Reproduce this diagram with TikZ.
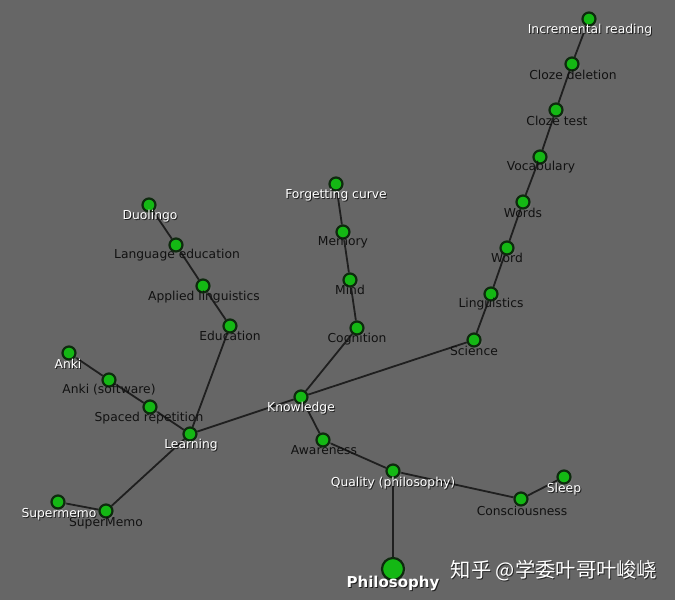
\documentclass[tikz,border=0pt]{standalone}
\usepackage{fontspec}
\setmainfont{DejaVu Sans}
\newfontfamily\cjk{Noto Sans CJK SC}
\usetikzlibrary{shadows}
\definecolor{bggray}{HTML}{666666}
\definecolor{nodegreen}{HTML}{14B814}
\definecolor{nodeedge}{HTML}{0E2A0E}
\definecolor{darktext}{HTML}{111111}
\pgfdeclarelayer{back}
\pgfdeclarelayer{edges}
\pgfsetlayers{back,edges,main}
\tikzset{
  x=1pt,y=1pt,
  vert/.style={circle,draw=nodeedge,line width=2.2pt,fill=nodegreen,inner sep=0pt,minimum size=13pt,
    drop shadow={shadow xshift=2pt,shadow yshift=-2pt,opacity=0.35}},
  bigvert/.style={vert,minimum size=22pt},
  lab/.style={font=\fontsize{12.3}{13}\selectfont,inner sep=0pt},
  wlab/.style={lab,text=white},
  dlab/.style={lab,text=darktext},
  link/.style={draw=black!88,line width=1.8pt},
}
\newcommand{\wlabel}[3]{%
  \node[lab,text=black,opacity=0.7] at ([xshift=1pt,yshift=-1pt]#1) {#3};
  \node[wlab] (#2) at (#1) {#3};}
\newcommand{\dlabel}[3]{\node[dlab] (#2) at (#1) {#3};}
\begin{document}
\begin{tikzpicture}
\begin{pgfonlayer}{back}
\fill[bggray] (0,0) rectangle (675,600);
\end{pgfonlayer}
\useasboundingbox (0,0) rectangle (675,600);
% vertices (y = 600 - pixel y)
\node[vert] (ir) at (589,581) {};
\node[vert] (cd) at (572,536) {};
\node[vert] (ct) at (556,490) {};
\node[vert] (voc) at (540,443) {};
\node[vert] (wds) at (523,398) {};
\node[vert] (wd) at (507,352) {};
\node[vert] (lin) at (491,306) {};
\node[vert] (sci) at (474,260) {};
\node[vert] (fc) at (336,416) {};
\node[vert] (mem) at (343,368) {};
\node[vert] (mind) at (350,320) {};
\node[vert] (cog) at (357,272) {};
\node[vert] (duo) at (149,395) {};
\node[vert] (led) at (176,355) {};
\node[vert] (al) at (203,314) {};
\node[vert] (edu) at (230,274) {};
\node[vert] (anki) at (69,247) {};
\node[vert] (ankis) at (109,220) {};
\node[vert] (sr) at (150,193) {};
\node[vert] (learn) at (190,166) {};
\node[vert] (know) at (301,203) {};
\node[vert] (aw) at (323,160) {};
\node[vert] (qual) at (393,129) {};
\node[vert] (cons) at (521,101) {};
\node[vert] (sleep) at (564,123) {};
\node[bigvert] (phil) at (393,31) {};
\node[vert] (smlow) at (58,98) {};
\node[vert] (smup) at (106,89) {};
% edges
\begin{pgfonlayer}{edges}
\draw[link] (ir) -- (cd) -- (ct) -- (voc) -- (wds) -- (wd) -- (lin) -- (sci) -- (know);
\draw[link] (fc) -- (mem) -- (mind) -- (cog) -- (know);
\draw[link] (duo) -- (led) -- (al) -- (edu) -- (learn);
\draw[link] (anki) -- (ankis) -- (sr) -- (learn);
\draw[link] (learn) -- (know);
\draw[link] (learn) -- (smup) -- (smlow);
\draw[link] (know) -- (aw) -- (qual) -- (cons) -- (sleep);
\draw[link] (qual) -- (phil);
\end{pgfonlayer}
% labels
\wlabel{590,570}{l-ir}{Incremental reading}
\dlabel{573,525}{l-cd}{Cloze deletion}
\dlabel{557,479}{l-ct}{Cloze test}
\dlabel{541,433}{l-voc}{Vocabulary}
\dlabel{523,387}{l-wds}{Words}
\dlabel{507,342}{l-wd}{Word}
\dlabel{491,296}{l-lin}{Linguistics}
\dlabel{474,249}{l-sci}{Science}
\wlabel{336,405}{l-fc}{Forgetting curve}
\dlabel{343,358}{l-mem}{Memory}
\dlabel{350,310}{l-mind}{Mind}
\dlabel{357,261}{l-cog}{Cognition}
\wlabel{150,384}{l-duo}{Duolingo}
\dlabel{177,345}{l-led}{Language education}
\dlabel{204,303}{l-al}{Applied linguistics}
\dlabel{230,264}{l-edu}{Education}
\wlabel{68,236}{l-anki}{Anki}
\dlabel{109,210}{l-ankis}{Anki (software)}
\dlabel{149,182}{l-sr}{Spaced repetition}
\wlabel{191,155}{l-learn}{Learning}
\wlabel{301,192}{l-know}{Knowledge}
\dlabel{324,150}{l-aw}{Awareness}
\wlabel{393,117}{l-qual}{Quality (philosophy)}
\dlabel{522,89}{l-cons}{Consciousness}
\wlabel{564,111}{l-sleep}{Sleep}
\wlabel{59,86}{l-smlow}{Supermemo}
\dlabel{106,77}{l-smup}{SuperMemo}
\node[text=black,opacity=0.7,inner sep=0pt,font=\fontsize{15}{18}\bfseries] at (394,16) {Philosophy};
\node[text=white,inner sep=0pt,font=\fontsize{15}{18}\bfseries] (l-phil) at (393,17) {Philosophy};
% watermark
\node[text=black,opacity=0.6,inner sep=0pt,font=\cjk\fontsize{20.3}{22}\selectfont] at (555,28) {知乎 @学委叶哥叶峻峣};
\node[text=white,inner sep=0pt,font=\cjk\fontsize{20.3}{22}\selectfont] (wm) at (554,29) {知乎 @学委叶哥叶峻峣};
\end{tikzpicture}
\end{document}
